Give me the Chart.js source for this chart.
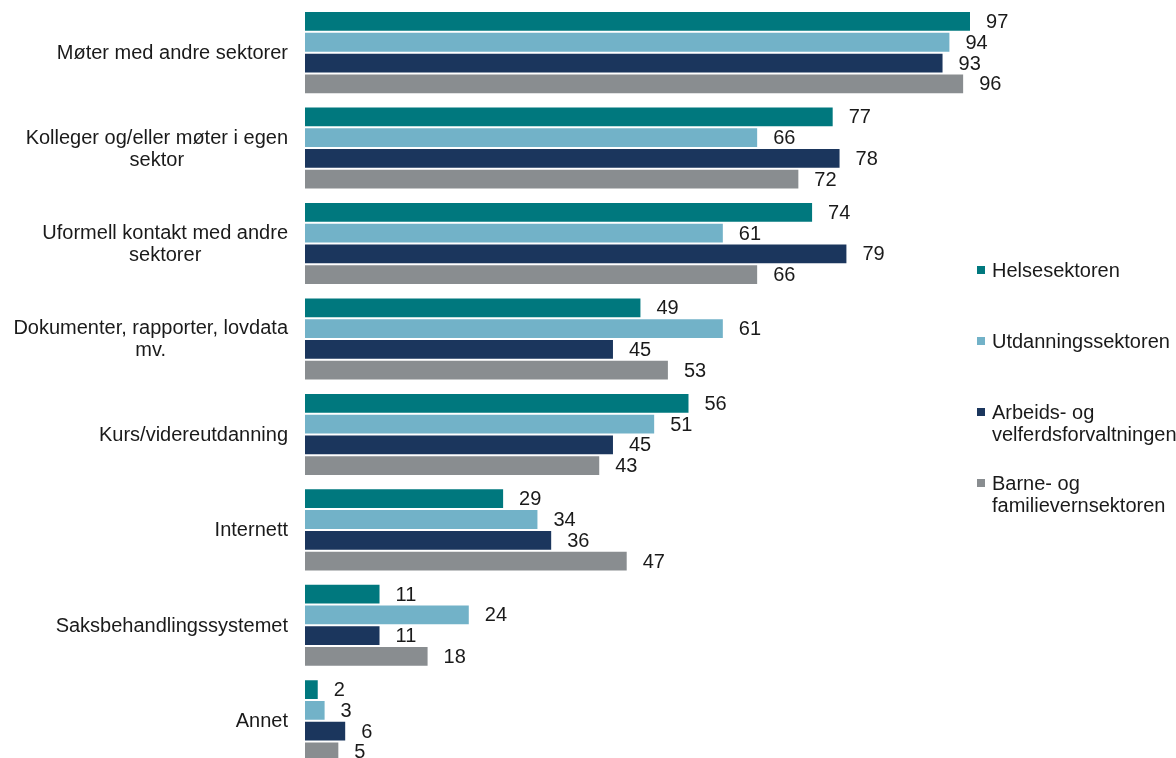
<!DOCTYPE html>
<html lang="no">
<head>
<meta charset="utf-8">
<title>Kilder til kunnskap</title>
<script src="https://cdn.jsdelivr.net/npm/chart.js@4/dist/chart.umd.min.js"></script>
<style>
    html, body { margin: 0; padding: 0; background: #fff; overflow: hidden; }
    #wrap { position: relative; width: 1176px; height: 776px; }
</style>
</head>
<body>
<div id="wrap"><canvas id="chart"></canvas></div>
<script>
// Kategorier (flere linjer der teksten brytes)
const categories = [
    ['Møter med andre sektorer'],
    ['Kolleger og/eller møter i egen', 'sektor'],
    ['Uformell kontakt med andre', 'sektorer'],
    ['Dokumenter, rapporter, lovdata', 'mv.'],
    ['Kurs/videreutdanning'],
    ['Internett'],
    ['Saksbehandlingssystemet'],
    ['Annet']
];

// Serier
const seriesNames = [
    ['Helsesektoren'],
    ['Utdanningssektoren'],
    ['Arbeids- og', 'velferdsforvaltningen'],
    ['Barne- og', 'familievernsektoren']
];
const helse      = [97, 77, 74, 49, 56, 29, 11, 2];
const utdanning  = [94, 66, 61, 61, 51, 34, 24, 3];
const arbeid     = [93, 78, 79, 45, 45, 36, 11, 6];
const barne      = [96, 72, 66, 53, 43, 47, 18, 5];

const colors = ['#00787E', '#72B2C8', '#1B365D', '#898D90'];
const FONT = '20px "Liberation Sans", Arial, sans-serif';
const TEXT = '#1a1a1a';

// Kategoritekster til venstre: blokken høyrejustert, linjene sentrert i blokken
const categoryLabels = {
    id: 'categoryLabels',
    afterDraw(chart) {
        const ctx = chart.ctx;
        const y = chart.scales.y;
        const right = 288, lineH = 22;
        ctx.save();
        ctx.font = FONT;
        ctx.fillStyle = TEXT;
        ctx.textAlign = 'center';
        ctx.textBaseline = 'middle';
        categories.forEach((lines, i) => {
            const w = Math.max(...lines.map(l => ctx.measureText(l).width));
            const cx = right - w / 2;
            const cy = y.getPixelForValue(i);
            const top = cy - (lines.length - 1) * lineH / 2;
            lines.forEach((l, k) => ctx.fillText(l, cx, top + k * lineH + 1));
        });
        ctx.restore();
    }
};

// Verdier etter hver stolpe
const valueLabels = {
    id: 'valueLabels',
    afterDatasetsDraw(chart) {
        const ctx = chart.ctx;
        ctx.save();
        ctx.font = FONT;
        ctx.fillStyle = TEXT;
        ctx.textAlign = 'left';
        ctx.textBaseline = 'middle';
        chart.data.datasets.forEach((ds, di) => {
            chart.getDatasetMeta(di).data.forEach((bar, i) => {
                ctx.fillText(String(ds.data[i]), bar.x + 15, bar.y + 1);
            });
        });
        ctx.restore();
    }
};

// Forklaring til høyre
const sideLegend = {
    id: 'sideLegend',
    afterDraw(chart) {
        const ctx = chart.ctx;
        const x = 977, startY = 270, step = 71, lineH = 22;
        ctx.save();
        ctx.font = FONT;
        ctx.textAlign = 'left';
        ctx.textBaseline = 'middle';
        seriesNames.forEach((lines, i) => {
            const cy = startY + i * step;
            ctx.fillStyle = colors[i];
            ctx.fillRect(x, cy - 4, 8, 8);
            ctx.fillStyle = TEXT;
            lines.forEach((l, k) => ctx.fillText(l, x + 15, cy + k * lineH + 1));
        });
        ctx.restore();
    }
};

const values = [helse, utdanning, arbeid, barne];

new Chart(document.getElementById('chart'), {
    type: 'bar',
    data: {
        labels: categories.map(c => c.join(' ')),
        datasets: values.map((v, i) => ({
            label: seriesNames[i].join(' '),
            data: v,
            backgroundColor: colors[i],
            borderColor: 'rgba(255,255,255,0.35)',
            borderWidth: 1,
            categoryPercentage: 0.87,
            barPercentage: 1.0
        }))
    },
    options: {
        indexAxis: 'y',
        responsive: true,
        maintainAspectRatio: false,
        animation: false,
        layout: {
            padding: { left: 305, right: 184.4, top: 4.9, bottom: 7.5 }
        },
        plugins: {
            legend: { display: false },
            tooltip: { enabled: false }
        },
        scales: {
            x: { display: false, min: 0, max: 100 },
            y: { display: false }
        }
    },
    plugins: [categoryLabels, valueLabels, sideLegend]
});
</script>
</body>
</html>
